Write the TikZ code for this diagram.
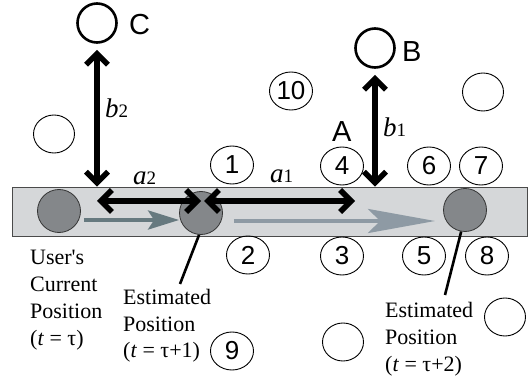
\documentclass[tikz,border=0pt]{standalone}
\usepackage{fontspec}
\setmainfont{Liberation Serif}
\setsansfont{Liberation Sans}
\usetikzlibrary{positioning,arrows.meta,shapes.geometric}
\definecolor{barfill}{HTML}{D5D7D9}
\definecolor{barline}{HTML}{4A4A4A}
\definecolor{posfill}{HTML}{84878A}
\definecolor{moveA}{HTML}{66797F}
\definecolor{moveB}{HTML}{8E9AA4}
\tikzset{
  numc/.style={ellipse,draw,line width=0.9pt,minimum width=43pt,minimum height=38pt,
    inner sep=0pt,font=\sffamily\fontsize{26}{26}\selectfont},
  emptyc/.style={ellipse,draw,line width=0.9pt,minimum width=41pt,minimum height=38pt,inner sep=0pt},
  target/.style={circle,draw,line width=2.6pt,minimum size=39pt,inner sep=0pt},
  posc/.style={circle,fill=posfill,draw=black!80,line width=0.8pt,minimum size=43pt,inner sep=0pt},
  letter/.style={font=\sffamily\fontsize{29}{29}\selectfont,inner sep=0pt,anchor=base west},
  sym/.style={inner sep=0pt,anchor=base west,font=\fontsize{27}{27}\selectfont},
  lbl/.style={align=left,inner sep=0pt,anchor=base west,font=\fontsize{22}{27}\selectfont},
  dist/.style={line width=5.5pt,{Straight Barb[length=11pt,width=22pt]}-{Straight Barb[length=11pt,width=22pt]}},
  lead/.style={line width=2.6pt},
}
\newcommand{\subn}[1]{{\fontsize{19}{19}\selectfont #1}}
\begin{document}
\begin{tikzpicture}[x=1pt,y=-1pt]
  \useasboundingbox (0,0) rectangle (531,385);
  % track and positions
  \node[draw=barline,fill=barfill,line width=0.8pt,minimum width=515pt,minimum height=49pt,
    inner sep=0pt] (bar) at (269.5,211.5) {};
  \node[posc] (p0) at (59,211) {};
  \node[posc] (p1) at (201,213) {};
  \node[posc] (p2) at (465,210) {};
  % destinations
  \node[target] (C) at (97,23) {};
  \node[target] (B) at (375,48) {};
  \node[letter] (Ctext) at (129,35) {C};
  \node[letter] (Btext) at (402,62) {B};
  \node[letter] (Atext) at (332,142) {A};
  \foreach \n/\x/\y in {1/232/165,2/248/255,3/342/256,4/342/166,5/424/256,
    6/429/166,7/481/166,8/487/256,9/232/351,10/291/91}
    \node[numc] (n\n) at (\x,\y) {\n};
  \foreach \i/\x/\y in {1/54/134,2/483/92,3/343/342,4/505/317}
    \node[emptyc] (e\i) at (\x,\y) {};
  % movement
  \coordinate (mvA) at (0,220);
  \coordinate (mvB) at (0,221);
  \draw[moveA,line width=4pt,-{Stealth[length=31pt,width=19pt,inset=6pt]},shorten <=3pt]
    (p0.east |- mvA) -- (p1.west |- mvA);
  \draw[moveB,line width=4pt,-{Stealth[length=67pt,width=24pt,inset=12pt]},shorten <=11pt,shorten >=8pt]
    (p1.east |- mvB) -- (p2.west |- mvB);
  % distances
  \coordinate (lvl) at (0,201);
  \coordinate (A) at (355,201);
  \draw[dist] (C |- lvl) -- (p1 |- lvl);
  \draw[dist,shorten <=3pt] (p1 |- lvl) -- (A);
  \draw[dist,shorten <=6pt] (C.south) -- (C |- bar.north);
  \draw[dist,shorten <=6pt] (B.south) -- (B |- bar.north);
  \node[sym] (b2) at (105,118) {\textit{b}\subn{2}};
  \node[sym] (b1) at (383,137) {\textit{b}\subn{1}};
  \node[sym] (a2) at (133,185) {\textit{a}\subn{2}};
  \node[sym] (a1) at (270,183) {\textit{a}\subn{1}};
  % captions (base = last line)
  \node[lbl] (u0) at (30,345) {User\textquotesingle s\\Current\\Position\\(\textit{t} = τ)};
  \node[lbl] (u1) at (123,358) {Estimated\\Position\\(\textit{t} = τ+1)};
  \node[lbl] (u2) at (385,371) {Estimated\\Position\\(\textit{t} = τ+2)};
  \coordinate (l1) at (180,284);
  \coordinate (l2) at (445,295);
  \draw[lead] (p1.265) -- (l1);
  \draw[lead] (p2.260) -- (l2);
\end{tikzpicture}
\end{document}
